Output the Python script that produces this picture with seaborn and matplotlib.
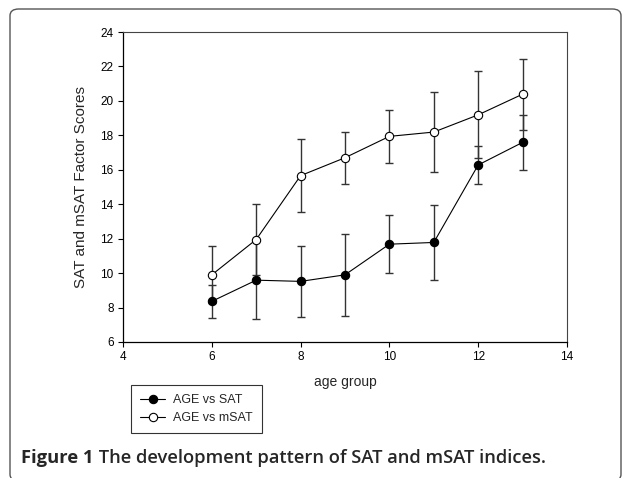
import matplotlib
matplotlib.use("Agg")
import matplotlib.pyplot as plt
import seaborn as sns
import pandas as pd
from matplotlib.patches import FancyBboxPatch

age = [6, 7, 8, 9, 10, 11, 12, 13]
sat = [8.36, 9.59, 9.52, 9.90, 11.68, 11.78, 16.28, 17.59]
sat_err = [0.95, 2.26, 2.04, 2.40, 1.67, 2.19, 1.08, 1.60]
msat = [9.90, 11.95, 15.66, 16.70, 17.94, 18.19, 19.19, 20.39]
msat_err = [1.66, 2.05, 2.11, 1.52, 1.55, 2.32, 2.53, 2.07]
series_names = ["AGE vs SAT", "AGE vs mSAT"]
caption_bold = "Figure 1"
caption_rest = " The development pattern of SAT and mSAT indices."

sns.set_style("ticks")
plt.rcParams["font.family"] = ["Liberation Sans", "DejaVu Sans"]

W, H = 625, 478
fig = plt.figure(figsize=(W / 100, H / 100), dpi=100)
ax = fig.add_axes([123 / W, 1 - 342 / H, (567 - 123) / W, (342 - 32) / H])

df = pd.DataFrame({"age": age * 2,
                   "score": sat + msat,
                   "series": [series_names[0]] * len(age) + [series_names[1]] * len(age)})

# error bars
for vals, errs in ((sat, sat_err), (msat, msat_err)):
    ax.errorbar(age, vals, yerr=errs, fmt="none", ecolor="#333333", elinewidth=1.0,
                capsize=3.2, capthick=1.0, zorder=1)

sns.lineplot(data=df[df.series == series_names[0]], x="age", y="score", ax=ax,
             color="black", lw=0.8, marker="o", markersize=6.0,
             markerfacecolor="black", markeredgecolor="black", markeredgewidth=0.8,
             label=series_names[0], zorder=3)
sns.lineplot(data=df[df.series == series_names[1]], x="age", y="score", ax=ax,
             color="black", lw=0.8, marker="o", markersize=6.0,
             markerfacecolor="white", markeredgecolor="black", markeredgewidth=0.8,
             label=series_names[1], zorder=3)

ax.set_xlim(4, 14)
ax.set_ylim(6, 24)
ax.set_xticks(range(4, 15, 2))
ax.set_yticks(range(6, 25, 2))
ax.tick_params(axis="both", labelsize=8.5, direction="out", length=3.6, width=0.8,
               colors="black", pad=3.2)
for s in ["left", "bottom"]:
    ax.spines[s].set_linewidth(0.9)
    ax.spines[s].set_color("black")
for s in ["top", "right"]:
    ax.spines[s].set_visible(True)
    ax.spines[s].set_linewidth(0.8)
    ax.spines[s].set_color("#444444")
ax.set_xlabel("age group", fontsize=10, labelpad=8)
ax.set_ylabel("SAT and mSAT Factor Scores", fontsize=11, labelpad=9)

leg = ax.legend(loc="upper left", bbox_to_anchor=(131 / W, 1 - 385 / H),
                bbox_transform=fig.transFigure, frameon=True, fancybox=False,
                fontsize=9, handlelength=2.0, handletextpad=0.6, borderpad=0.75,
                labelspacing=0.45, borderaxespad=0)
leg.get_frame().set_edgecolor("black")
leg.get_frame().set_linewidth(0.8)

# caption
cap_y = 1 - 458 / H
fam = ["Open Sans", "DejaVu Sans"]
fs = 13.2
t1 = fig.text(21 / W, cap_y, caption_bold, fontsize=fs, fontweight="bold",
              family=fam, va="center", ha="left")
fig.canvas.draw()
bb = t1.get_window_extent()
t2 = fig.text(bb.x1 / W, cap_y, caption_rest, fontsize=fs, fontweight="semibold",
              family=fam, va="center", ha="left")

# rounded frame
frame = FancyBboxPatch((10 / W, -3 / H), (621 - 10) / W, (469 + 3) / H,
                       boxstyle="round,pad=0,rounding_size=0.014",
                       transform=fig.transFigure, fill=False, edgecolor="#555555",
                       linewidth=1.0)
fig.patches.append(frame)

fig.savefig("out.png", dpi=100)
